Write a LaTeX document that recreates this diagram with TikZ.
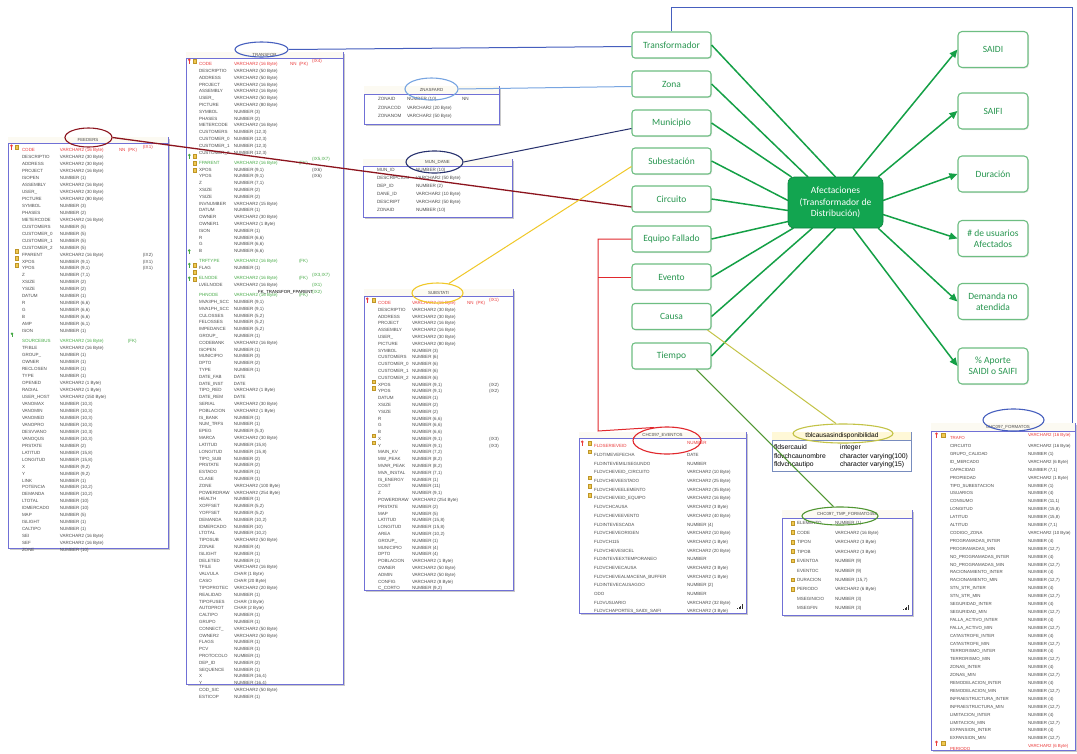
\documentclass[tikz,border=0pt]{standalone}
\usepackage{fontspec}
\usetikzlibrary{arrows.meta,shapes.geometric,shadows}
\newfontfamily\tabfont{Liberation Sans}
\newfontfamily\boxfont{Carlito}
\setlength{\tabcolsep}{0pt}
\definecolor{tblblue}{RGB}{112,112,214}
\definecolor{hdrfill}{RGB}{252,250,242}
\definecolor{tbltext}{RGB}{75,75,75}
\definecolor{pkred}{RGB}{235,60,60}
\definecolor{fkgreen}{RGB}{70,170,70}
\definecolor{idxyellow}{RGB}{240,200,80}
\definecolor{idxedge}{RGB}{190,150,40}
\definecolor{boxgreen}{RGB}{110,190,130}
\definecolor{txtgreen}{RGB}{40,150,80}
\definecolor{lgreen}{RGB}{20,160,70}
\definecolor{cgreen}{RGB}{18,165,80}
\definecolor{feedred}{RGB}{140,20,30}
\definecolor{trblue}{RGB}{70,95,190}
\definecolor{znblue}{RGB}{120,165,225}
\definecolor{munnavy}{RGB}{40,50,110}
\definecolor{subyel}{RGB}{240,200,40}
\definecolor{evred}{RGB}{225,40,45}
\definecolor{causeyel}{RGB}{195,195,70}
\definecolor{tmpgreen}{RGB}{80,150,50}
\definecolor{cauhdr}{RGB}{255,248,215}
\definecolor{cauedge}{RGB}{120,140,190}
\newcommand{\tf}[2]{\tabfont\fontsize{#1}{#2}\selectfont\color{tbltext}}
\newcommand{\R}{\color{pkred}}
\newcommand{\G}{\color{fkgreen}}
\newcommand{\ixicon}[2]{\filldraw[fill=idxyellow,draw=idxedge,line width=0.3pt] ({#1-1.8},{#2-1.8}) rectangle ({#1+1.8},{#2+1.8});}
\newcommand{\keyicon}[3]{\fill[#3] ({#1},{#2-1.2}) circle (1.4pt); \draw[#3,line width=0.8pt] ({#1},{#2-1}) -- ({#1},{#2+2.5});}
\newcommand{\dotsicon}[2]{\foreach \k in {0,1,2,3}{\fill[black!80] ({#1+\k*1.5},{#2}) rectangle ({#1+\k*1.5+1},{#2-1-\k*1.2});}}
\tikzset{
  tblframe/.style={draw=tblblue, line width=0.8pt, fill=white, anchor=north west, inner sep=0pt,
    drop shadow={shadow xshift=1.3pt, shadow yshift=-1.3pt, opacity=0.35, fill=black!60}},
  tbody/.style={anchor=north west, inner sep=0pt, outer sep=0pt},
  ttitle/.style={inner sep=0pt, font=\tf{4.4}{5}},
  ell/.style={ellipse, draw, line width=1.1pt, inner sep=0pt, fill=none},
  lbox/.style={draw=boxgreen, line width=1.1pt, rounded corners=3pt, fill=white, minimum width=79pt,
    minimum height=26pt, text=txtgreen, align=center, font=\boxfont\fontsize{9.5}{11}\selectfont,
    drop shadow={shadow xshift=1pt, shadow yshift=-1pt, opacity=0.2, fill=black!50}},
  rbox/.style={lbox, minimum width=70pt, minimum height=36pt, rounded corners=4pt},
  cbox/.style={fill=cgreen, draw=cgreen!80!black, line width=0.6pt, rounded corners=6pt, minimum width=95pt,
    minimum height=51pt, text=white, align=center, font=\boxfont\fontsize{9.5}{11.5}\selectfont},
  gline/.style={draw=lgreen, line width=1.5pt},
  garrow/.style={gline, -{Triangle[length=8pt,width=7pt]}},
  link/.style={line width=1pt}
}
\begin{document}
\begin{tikzpicture}[x=1pt,y=-1pt]
\useasboundingbox (0,0) rectangle (1077,753);
\fill[white] (0,0) rectangle (1077,753);

% ---------------- FEEDERS ----------------
\node[tblframe, minimum width=160pt, minimum height=411pt] (feeders) at (8,137) {};
\fill[hdrfill] (8.4,137.4) rectangle (167.6,143.5);
\draw[tblblue, line width=0.6pt] (8,143.5) -- (168,143.5);
\node[ttitle] (feedersT) at (88,140.3) {FEEDERS};
\node[tbody] (feedersB) at (22,143.52) {\tf{4.5}{6.96}\begin{tabular}{@{}p{38pt}p{59pt}p{9pt}p{15pt}l@{}}
\R CODE & \R VARCHAR2 (16 Byte) & \R NN & \R (PK) & \R (IX1)\\
DESCRIPTIO & VARCHAR2 (30 Byte)\\
ADDRESS & VARCHAR2 (30 Byte)\\
PROJECT & VARCHAR2 (16 Byte)\\
ISOPEN & NUMBER (1)\\
ASSEMBLY & VARCHAR2 (16 Byte)\\
USER\_ & VARCHAR2 (30 Byte)\\
PICTURE & VARCHAR2 (80 Byte)\\
SYMBOL & NUMBER (3)\\
PHASES & NUMBER (2)\\
METERCODE & VARCHAR2 (16 Byte)\\
CUSTOMERS & NUMBER (5)\\
CUSTOMER\_0 & NUMBER (5)\\
CUSTOMER\_1 & NUMBER (5)\\
CUSTOMER\_2 & NUMBER (5)\\
FPARENT & VARCHAR2 (16 Byte) & & & (IX2)\\
XPOS & NUMBER (9,1) & & & (IX1)\\
YPOS & NUMBER (9,1) & & & (IX1)\\
Z & NUMBER (7,1)\\
XSIZE & NUMBER (2)\\
YSIZE & NUMBER (2)\\
DATUM & NUMBER (1)\\
R & NUMBER (6,6)\\
G & NUMBER (6,6)\\
B & NUMBER (6,6)\\
AMP & NUMBER (6,1)\\
ISON & NUMBER (1)\\
\G SOURCEBUS & \G VARCHAR2 (16 Byte) & & \G (FK)\\
TFIBLE & VARCHAR2 (16 Byte)\\
GROUP\_ & NUMBER (1)\\
OWNER & NUMBER (1)\\
RECLOSEN & NUMBER (1)\\
TYPE & NUMBER (1)\\
OPENED & VARCHAR2 (1 Byte)\\
RADIAL & VARCHAR2 (1 Byte)\\
USER\_HOST & VARCHAR2 (150 Byte)\\
VANOMAX & NUMBER (10,3)\\
VANOMIN & NUMBER (10,3)\\
VANOMED & NUMBER (10,3)\\
VANOPRO & NUMBER (10,3)\\
DESVVANO & NUMBER (10,3)\\
VANOQUS & NUMBER (10,3)\\
PRSTATE & NUMBER (2)\\
LATITUD & NUMBER (15,8)\\
LONGITUD & NUMBER (15,8)\\
X & NUMBER (9,2)\\
Y & NUMBER (9,2)\\
LINK & NUMBER (1)\\
POTENCIA & NUMBER (10,2)\\
DEMANDA & NUMBER (10,2)\\
LTOTAL & NUMBER (10)\\
IDMERCADO & NUMBER (10)\\
MAP & NUMBER (5)\\
ISLIGHT & NUMBER (1)\\
CALTIPO & NUMBER (1)\\
SEI & VARCHAR2 (16 Byte)\\
SEF & VARCHAR2 (16 Byte)\\
ZONE & NUMBER (10)
\end{tabular}};
\keyicon{11.5}{147}{pkred} \ixicon{16.5}{147}
\ixicon{16.5}{251.4} \ixicon{16.5}{258.4} \ixicon{16.5}{265.3}
\keyicon{12}{334.9}{fkgreen}

% ---------------- TRANSFOR ----------------
\node[tblframe, minimum width=157pt, minimum height=632pt] (transfor) at (186,52) {};
\fill[hdrfill] (186.4,52.4) rectangle (342.6,58);
\draw[tblblue, line width=0.6pt] (186,58) -- (343,58);
\node[ttitle] (transforT) at (264.5,55) {TRANSFOR};
\node[tbody] (transforB) at (199,57.6) {\tf{4.5}{6.81}\begin{tabular}{@{}p{35pt}p{56pt}p{9pt}p{13pt}l@{}}
\R CODE & \R VARCHAR2 (16 Byte) & \R NN & \R (PK) & \R (IX4)\\
DESCRIPTIO & VARCHAR2 (50 Byte)\\
ADDRESS & VARCHAR2 (50 Byte)\\
PROJECT & VARCHAR2 (16 Byte)\\
ASSEMBLY & VARCHAR2 (16 Byte)\\
USER\_ & VARCHAR2 (50 Byte)\\
PICTURE & VARCHAR2 (80 Byte)\\
SYMBOL & NUMBER (3)\\
PHASES & NUMBER (2)\\
METERCODE & VARCHAR2 (16 Byte)\\
CUSTOMERS & NUMBER (12,3)\\
CUSTOMER\_0 & NUMBER (12,3)\\
CUSTOMER\_1 & NUMBER (12,3)\\
CUSTOMER\_2 & NUMBER (12,3)\\
\G FPARENT & \G VARCHAR2 (16 Byte) & & \G (FK) & \G (IX5,IX7)\\
XPOS & NUMBER (9,1) & & & (IX6)\\
YPOS & NUMBER (9,1) & & & (IX6)\\
Z & NUMBER (7,1)\\
XSIZE & NUMBER (2)\\
YSIZE & NUMBER (2)\\
INVNUMBER & VARCHAR2 (15 Byte)\\
DATUM & NUMBER (1)\\
OWNER & VARCHAR2 (30 Byte)\\
OWNER1 & VARCHAR2 (1 Byte)\\
ISON & NUMBER (1)\\
R & NUMBER (6,6)\\
G & NUMBER (6,6)\\
B & NUMBER (6,6)\\
\G TRFTYPE & \G VARCHAR2 (16 Byte) & & \G (FK)\\
FLAG & NUMBER (1)\\
\G ELNODE & \G VARCHAR2 (16 Byte) & & \G (FK) & \G (IX3,IX7)\\
LVELNODE & VARCHAR2 (16 Byte) & & & \G (IX1)\\
\G PHNODE & \G VARCHAR2 (16 Byte) & & \G (FK) & \G (IX2)\\
MVA3PH\_SCC & NUMBER (9,1)\\
MVA1PH\_SCC & NUMBER (9,1)\\
CULOSSES & NUMBER (5,2)\\
FELOSSES & NUMBER (5,2)\\
IMPEDANCE & NUMBER (5,2)\\
GROUP\_ & NUMBER (1)\\
CODEBANK & VARCHAR2 (16 Byte)\\
ISOPEN & NUMBER (1)\\
MUNICIPIO & NUMBER (3)\\
DPTO & NUMBER (2)\\
TYPE & NUMBER (1)\\
DATE\_FAB & DATE\\
DATE\_INST & DATE\\
TIPO\_RED & VARCHAR2 (1 Byte)\\
DATE\_REM & DATE\\
SERIAL & VARCHAR2 (30 Byte)\\
POBLACION & VARCHAR2 (1 Byte)\\
IS\_BANK & NUMBER (1)\\
NUM\_TRFS & NUMBER (1)\\
EPEG & NUMBER (5,3)\\
MARCA & VARCHAR2 (30 Byte)\\
LATITUD & NUMBER (15,8)\\
LONGITUD & NUMBER (15,8)\\
TIPO\_SUB & NUMBER (2)\\
PRSTATE & NUMBER (2)\\
ESTADO & NUMBER (1)\\
CLASE & NUMBER (1)\\
ZONE & VARCHAR2 (100 Byte)\\
POWERDRAW & VARCHAR2 (254 Byte)\\
HEALTH & NUMBER (1)\\
XOFFSET & NUMBER (5,2)\\
YOFFSET & NUMBER (5,2)\\
DEMANDA & NUMBER (10,2)\\
IDMERCADO & NUMBER (10)\\
LTOTAL & NUMBER (10,2)\\
TIPOSUB & VARCHAR2 (50 Byte)\\
ZONAE & NUMBER (4)\\
ISLIGHT & NUMBER (1)\\
DELETED & NUMBER (1)\\
TFILE & VARCHAR2 (16 Byte)\\
VALVULA & CHAR (1 Byte)\\
CASO & CHAR (20 Byte)\\
TIPOPROTEC & VARCHAR2 (20 Byte)\\
REALIDAD & NUMBER (1)\\
TIPOFUSES & CHAR (3 Byte)\\
AUTOPROT & CHAR (2 Byte)\\
CALTIPO & NUMBER (1)\\
GRUPO & NUMBER (1)\\
CONNECT\_ & VARCHAR2 (50 Byte)\\
OWNER2 & VARCHAR2 (50 Byte)\\
FLAGS & NUMBER (1)\\
PCV & NUMBER (1)\\
PROTOCOLO & NUMBER (1)\\
DEP\_ID & NUMBER (2)\\
SEQUENCE & NUMBER (1)\\
X & NUMBER (16,4)\\
Y & NUMBER (16,4)\\
COD\_SIC & VARCHAR2 (50 Byte)\\
ESTICOP & NUMBER (1)
\end{tabular}};
\node[anchor=west, inner sep=0pt, font=\tabfont\fontsize{4.4}{5}\selectfont] (fklabel) at (258,292.6) {FK\_TRANSFOR\_FPARENT};
\keyicon{189.3}{61}{pkred} \ixicon{194.5}{61}
\keyicon{189.3}{156.3}{fkgreen} \ixicon{194.5}{156.3}
\ixicon{194.5}{163.2} \ixicon{194.5}{170}
\keyicon{189.3}{251.7}{fkgreen}
\keyicon{189.3}{265.3}{fkgreen} \ixicon{194.5}{265.3}
\ixicon{194.5}{272.1}
\keyicon{189.3}{278.9}{fkgreen} \ixicon{194.5}{278.9}

% ---------------- ZNASFARD ----------------
\node[tblframe, minimum width=135pt, minimum height=38pt] (znas) at (364,86) {};
\fill[hdrfill] (364.4,86.4) rectangle (498.6,94.5);
\draw[tblblue, line width=0.6pt] (364,94.5) -- (499,94.5);
\node[ttitle] (znasT) at (431.5,90.3) {ZNASFARD};
\node[tbody] (znasB) at (378,94.75) {\tf{4.6}{8.5}\begin{tabular}{@{}p{29pt}p{55pt}l@{}}
ZONAID & NUMBER (10) & NN\\
ZONACOD & VARCHAR2 (20 Byte)\\
ZONANOM & VARCHAR2 (50 Byte)
\end{tabular}};

% ---------------- MUN_DANE ----------------
\node[tblframe, minimum width=149pt, minimum height=58pt] (mun) at (363,159) {};
\fill[hdrfill] (363.4,159.4) rectangle (511.6,166);
\draw[tblblue, line width=0.6pt] (363,166) -- (512,166);
\node[ttitle] (munT) at (437.5,162.6) {MUN\_DANE};
\node[tbody] (munB) at (377,166) {\tf{4.6}{8}\begin{tabular}{@{}p{39pt}l@{}}
MUN\_ID & NUMBER (10)\\
DESCRIPCION & VARCHAR2 (50 Byte)\\
DEP\_ID & NUMBER (2)\\
DANE\_ID & VARCHAR2 (10 Byte)\\
DESCRIPT & VARCHAR2 (50 Byte)\\
ZONAID & NUMBER (10)
\end{tabular}};

% ---------------- SUBSTATI ----------------
\node[tblframe, minimum width=149pt, minimum height=301pt] (sub) at (364,289) {};
\fill[hdrfill] (364.4,289.4) rectangle (512.6,296.5);
\draw[tblblue, line width=0.6pt] (364,296.5) -- (513,296.5);
\node[ttitle] (subT) at (438.5,292.8) {SUBSTATI};
\node[tbody] (subB) at (378,296.6) {\tf{4.5}{6.79}\begin{tabular}{@{}p{34pt}p{55pt}p{9pt}p{13pt}l@{}}
\R CODE & \R VARCHAR2 (16 Byte) & \R NN & \R (PK) & \R (IX1)\\
DESCRIPTIO & VARCHAR2 (30 Byte)\\
ADDRESS & VARCHAR2 (30 Byte)\\
PROJECT & VARCHAR2 (16 Byte)\\
ASSEMBLY & VARCHAR2 (16 Byte)\\
USER\_ & VARCHAR2 (30 Byte)\\
PICTURE & VARCHAR2 (80 Byte)\\
SYMBOL & NUMBER (3)\\
CUSTOMERS & NUMBER (6)\\
CUSTOMER\_0 & NUMBER (6)\\
CUSTOMER\_1 & NUMBER (6)\\
CUSTOMER\_2 & NUMBER (6)\\
XPOS & NUMBER (9,1) & & & (IX2)\\
YPOS & NUMBER (9,1) & & & (IX2)\\
DATUM & NUMBER (1)\\
XSIZE & NUMBER (2)\\
YSIZE & NUMBER (2)\\
R & NUMBER (6,6)\\
G & NUMBER (6,6)\\
B & NUMBER (6,6)\\
X & NUMBER (9,1) & & & (IX3)\\
Y & NUMBER (9,1) & & & (IX3)\\
MAIN\_KV & NUMBER (7,2)\\
MW\_PEAK & NUMBER (8,2)\\
MVAR\_PEAK & NUMBER (8,2)\\
MVA\_INSTAL & NUMBER (7,1)\\
IS\_ENERGY & NUMBER (1)\\
COST & NUMBER (11)\\
Z & NUMBER (9,1)\\
POWERDRAW & VARCHAR2 (254 Byte)\\
PRSTATE & NUMBER (2)\\
MAP & NUMBER (5)\\
LATITUD & NUMBER (15,8)\\
LONGITUD & NUMBER (15,8)\\
AREA & NUMBER (10,2)\\
GROUP\_ & NUMBER (1)\\
MUNICIPIO & NUMBER (4)\\
DPTO & NUMBER (4)\\
POBLACION & VARCHAR2 (1 Byte)\\
OWNER & VARCHAR2 (50 Byte)\\
ADMIN & VARCHAR2 (50 Byte)\\
CONFIG & VARCHAR2 (8 Byte)\\
C\_CORTO & NUMBER (9,2)
\end{tabular}};
\keyicon{367.3}{300}{pkred} \ixicon{373.7}{300}
\ixicon{373.7}{381.5} \ixicon{373.7}{388.3}
\ixicon{373.7}{435.8} \ixicon{373.7}{442.6}

% ---------------- CHC097_EVENTOS ----------------
\node[tblframe, minimum width=167pt, minimum height=181pt] (ev) at (579,432) {};
\fill[hdrfill] (579.4,432.4) rectangle (745.6,438.5);
\draw[tblblue, line width=0.6pt] (579,438.5) -- (746,438.5);
\node[ttitle] (evT) at (662.5,435.5) {CHC097\_EVENTOS};
\node[tbody] (evB) at (594,438.66) {\tf{4.5}{8.68}\begin{tabular}{@{}p{93pt}l@{}}
\R FLDSERIEVEID & \R NUMBER\\
FLDTIMEVEFECHA & DATE\\
FLDINTEVEMILISEGUNDO & NUMBER\\
FLDVCHEVEID\_CIRCUITO & VARCHAR2 (10 Byte)\\
FLDVCHEVEESTADO & VARCHAR2 (25 Byte)\\
FLDVCHEVEELEMENTO & VARCHAR2 (35 Byte)\\
FLDVCHEVEID\_EQUIPO & VARCHAR2 (16 Byte)\\
FLDVCHCAUSA & VARCHAR2 (3 Byte)\\
FLDVCHEVEEVENTO & VARCHAR2 (40 Byte)\\
FLDINTEVESCADA & NUMBER (4)\\
FLDVCHEVEORIGEN & VARCHAR2 (10 Byte)\\
FLDVCH115 & VARCHAR2 (1 Byte)\\
FLDVCHEVESICEL & VARCHAR2 (20 Byte)\\
FLDINTEVEEXTEMPORANEO & NUMBER\\
FLDVCHEVECAUSA & VARCHAR2 (3 Byte)\\
FLDVCHEVEALMACENA\_BUFFER & VARCHAR2 (1 Byte)\\
FLDINTEVECAUSAGOO & NUMBER (2)\\
ODO & NUMBER\\
FLDVUSUARIO & VARCHAR2 (32 Byte)\\
FLDVCHAPORTES\_SAIDI\_SAIFI & VARCHAR2 (3 Byte)
\end{tabular}};
\keyicon{582.3}{443}{pkred} \ixicon{589.5}{443}
\ixicon{589.5}{451.7} \ixicon{589.5}{477.7} \ixicon{589.5}{486.4} \ixicon{589.5}{495.1}
\dotsicon{737}{609}

% ---------------- tblcausasindisponibilidad ----------------
\node[anchor=north west, draw=cauedge, line width=0.7pt, fill=white, minimum width=139pt, minimum height=39pt,
  inner sep=0pt, drop shadow={shadow xshift=1pt, shadow yshift=-1pt, opacity=0.25, fill=black!50}] (cau) at (772,432) {};
\fill[cauhdr] (772.4,432.4) rectangle (910.6,440);
\draw[cauedge, line width=0.5pt] (772,440) -- (911,440);
\node[inner sep=0pt, font=\tabfont\fontsize{6.6}{8}\selectfont] (cauT) at (842,435.8) {tblcausasindisponibilidad};
\node[tbody] (cauB) at (774,443.75) {\tabfont\fontsize{6.8}{8.5}\selectfont\begin{tabular}{@{}p{66pt}l@{}}
fldsercauid & integer\\
fldvchcaunombre & character varying(100)\\
fldvchcautipo & character varying(15)
\end{tabular}};

% ---------------- CHC097_TMP_FORMATO458 ----------------
\node[tblframe, minimum width=130pt, minimum height=105pt] (tmp) at (782,510) {};
\fill[hdrfill] (782.4,510.4) rectangle (911.6,518);
\draw[tblblue, line width=0.6pt] (782,518) -- (912,518);
\node[ttitle] (tmpT) at (847,514.2) {CHC097\_TMP\_FORMATO458};
\node[tbody] (tmpB) at (797,518.28) {\tf{4.5}{9.44}\begin{tabular}{@{}p{38pt}l@{}}
ELEMENTO & NUMBER (1)\\
CODE & VARCHAR2 (16 Byte)\\
TIPON & VARCHAR2 (3 Byte)\\
TIPOB & VARCHAR2 (3 Byte)\\
EVENTOA & NUMBER (9)\\
EVENTOC & NUMBER (9)\\
DURACION & NUMBER (15,7)\\
PERIODO & VARCHAR2 (6 Byte)\\
MSEGINICIO & NUMBER (3)\\
MSEGFIN & NUMBER (3)
\end{tabular}};
\ixicon{792.7}{523} \ixicon{792.7}{532.44} \ixicon{792.7}{541.88} \ixicon{792.7}{551.32}
\ixicon{792.7}{560.76} \ixicon{792.7}{579.64} \ixicon{792.7}{589.08}
\dotsicon{903}{610}

% ---------------- CHC097_FORMATOS ----------------
\node[tblframe, minimum width=144pt, minimum height=327pt] (form) at (931,423) {};
\fill[hdrfill] (931.4,423.4) rectangle (1074.6,431.3);
\draw[tblblue, line width=0.6pt] (931,431.3) -- (1075,431.3);
\node[ttitle] (formT) at (1008,427.3) {CHC097\_FORMATOS};
\node[tbody] (formB) at (950,431.05) {\tf{4.4}{7.9}\begin{tabular}{@{}p{78pt}l@{}}
\R TRAFO & \R VARCHAR2 (16 Byte)\\
CIRCUITO & VARCHAR2 (16 Byte)\\
GRUPO\_CALIDAD & NUMBER (1)\\
ID\_MERCADO & VARCHAR2 (6 Byte)\\
CAPACIDAD & NUMBER (7,1)\\
PROPIEDAD & VARCHAR2 (1 Byte)\\
TIPO\_SUBESTACION & NUMBER (1)\\
USUARIOS & NUMBER (4)\\
CONSUMO & NUMBER (11,1)\\
LONGITUD & NUMBER (15,8)\\
LATITUD & NUMBER (15,8)\\
ALTITUD & NUMBER (7,1)\\
CODIGO\_ZONA & VARCHAR2 (10 Byte)\\
PROGRAMADAS\_INTER & NUMBER (4)\\
PROGRAMADAS\_MIN & NUMBER (12,7)\\
NO\_PROGRAMADAS\_INTER & NUMBER (4)\\
NO\_PROGRAMADAS\_MIN & NUMBER (12,7)\\
RACIONAMIENTO\_INTER & NUMBER (4)\\
RACIONAMIENTO\_MIN & NUMBER (12,7)\\
STN\_STR\_INTER & NUMBER (4)\\
STN\_STR\_MIN & NUMBER (12,7)\\
SEGURIDAD\_INTER & NUMBER (4)\\
SEGURIDAD\_MIN & NUMBER (12,7)\\
FALLA\_ACTIVO\_INTER & NUMBER (4)\\
FALLA\_ACTIVO\_MIN & NUMBER (12,7)\\
CATASTROFE\_INTER & NUMBER (4)\\
CATASTROFE\_MIN & NUMBER (12,7)\\
TERRORISMO\_INTER & NUMBER (4)\\
TERRORISMO\_MIN & NUMBER (12,7)\\
ZONAS\_INTER & NUMBER (4)\\
ZONAS\_MIN & NUMBER (12,7)\\
REMODELACION\_INTER & NUMBER (4)\\
REMODELACION\_MIN & NUMBER (12,7)\\
INFRAESTRUCTURA\_INTER & NUMBER (4)\\
INFRAESTRUCTURA\_MIN & NUMBER (12,7)\\
LIMITACION\_INTER & NUMBER (4)\\
LIMITACION\_MIN & NUMBER (12,7)\\
EXPANSION\_INTER & NUMBER (4)\\
EXPANSION\_MIN & NUMBER (12,7)\\
\R PERIODO & \R VARCHAR2 (6 Byte)
\end{tabular}};
\keyicon{936.5}{435}{pkred} \ixicon{943}{435}
\keyicon{936.5}{743.1}{pkred} \ixicon{943}{743.1}

% ---------------- green boxes ----------------
\node[lbox] (transformador) at (671.5,45) {Transformador};
\node[lbox] (zona) at (671.5,84) {Zona};
\node[lbox] (municipio) at (671.5,123) {Municipio};
\node[lbox] (subestacion) at (671.5,161) {Subestación};
\node[lbox] (circuito) at (671.5,199) {Circuito};
\node[lbox] (equipo) at (671.5,239) {Equipo Fallado};
\node[lbox] (evento) at (671.5,277) {Evento};
\node[lbox] (causa) at (671.5,316.5) {Causa};
\node[lbox] (tiempo) at (671.5,356) {Tiempo};

\node[rbox] (saidi) at (993,49.5) {SAIDI};
\node[rbox] (saifi) at (993,111) {SAIFI};
\node[rbox] (duracion) at (993,174) {Duración};
\node[rbox] (usuarios) at (993,238.5) {\# de usuarios\\Afectados};
\node[rbox] (demanda) at (993,301.5) {Demanda no\\atendida};
\node[rbox] (aporte) at (993,366) {\% Aporte\\SAIDI o SAIFI};

\coordinate (cN) at (835.5,177);
\coordinate (cS) at (835.5,228);
\coordinate (cW) at (788,202.5);
\coordinate (cE) at (883,202.5);

% lines into the centre box
\draw[gline] (transformador.east) -- (cN);
\draw[gline] (zona.east) -- ([xshift=-27.5pt]cN);
\draw[gline] (municipio.east) -- ([xshift=-44pt]cN);
\draw[gline] (subestacion.east) -- ([yshift=2pt]cW);
\draw[gline] (circuito.east) -- ([yshift=-8pt]cW);
\draw[gline] (equipo.east) -- ([yshift=-19pt]cW);
\draw[gline] (evento.east) -- ([xshift=-42pt]cS);
\draw[gline] (causa.east) -- ([xshift=-23pt]cS);
\draw[gline] (tiempo.east) -- (cS);
% arrows out of the centre box
\draw[garrow] ([xshift=17.5pt]cN) -- (saidi.west);
\draw[garrow] ([xshift=42.5pt]cN) -- (saifi.west);
\draw[garrow] ([yshift=2pt]cE) -- (duracion.west);
\draw[garrow] ([yshift=-12pt]cE) -- (usuarios.west);
\draw[garrow] ([xshift=42.5pt]cS) -- (demanda.west);
\draw[garrow] ([xshift=17.5pt]cS) -- (aporte.west);

\node[cbox] (centre) at (835.5,202.5) {Afectaciones\\(Transformador de\\Distribución)};

% ---------------- ellipses ----------------
\node[ell, draw=feedred, minimum width=47pt, minimum height=19pt] (feedersE) at (88.5,137.5) {};
\node[ell, draw=trblue, minimum width=53pt, minimum height=15pt] (transforE) at (261.5,49.5) {};
\node[ell, draw=znblue, minimum width=53pt, minimum height=22pt] (znasE) at (431.5,89) {};
\node[ell, draw=munnavy, minimum width=57pt, minimum height=22pt] (munE) at (434.5,162) {};
\node[ell, draw=subyel, minimum width=51pt, minimum height=20pt] (subE) at (437.5,293) {};
\node[ell, draw=evred, minimum width=68pt, minimum height=27pt] (evE) at (667,440.5) {};
\node[ell, draw=causeyel, minimum width=100pt, minimum height=19pt] (cauE) at (843,433.5) {};
\node[ell, draw=tmpgreen, minimum width=76pt, minimum height=18pt] (tmpE) at (840,516) {};
\node[ell, draw=trblue, minimum width=61pt, minimum height=22pt] (formE) at (1013.5,420) {};

% ---------------- table links ----------------
\draw[link, draw=feedred, line width=1.3pt] (feedersE.east) -- ([yshift=-8pt]circuito.west);
\draw[link, draw=trblue] (transforE.east) -- ([yshift=-1.5pt]transformador.west);
\coordinate (topright) at (1072,7);
\draw[link, draw=trblue] (transformador.north) |- (topright) -- (topright |- form.north);
\draw[link, draw=znblue] (znasE.east) -- ([yshift=-2.5pt]zona.west);
\draw[link, draw=munnavy] (munE.east) -- ([yshift=-5.5pt]municipio.west);
\draw[link, draw=subyel] (subE.40) -- ([yshift=-5.5pt]subestacion.west);
\coordinate (redx) at (598,431);
\draw[link, draw=evred] (evE.135) -- (redx) -- (redx |- equipo.west) -- (equipo.west);
\draw[link, draw=evred] (redx |- evento.west) -- (evento.west);
\draw[link, draw=causeyel] ([xshift=36pt]causa.south) -- (cauE.125);
\draw[link, draw=tmpgreen] ([xshift=25pt]tiempo.south) -- (tmpE.125);
\end{tikzpicture}
\end{document}
